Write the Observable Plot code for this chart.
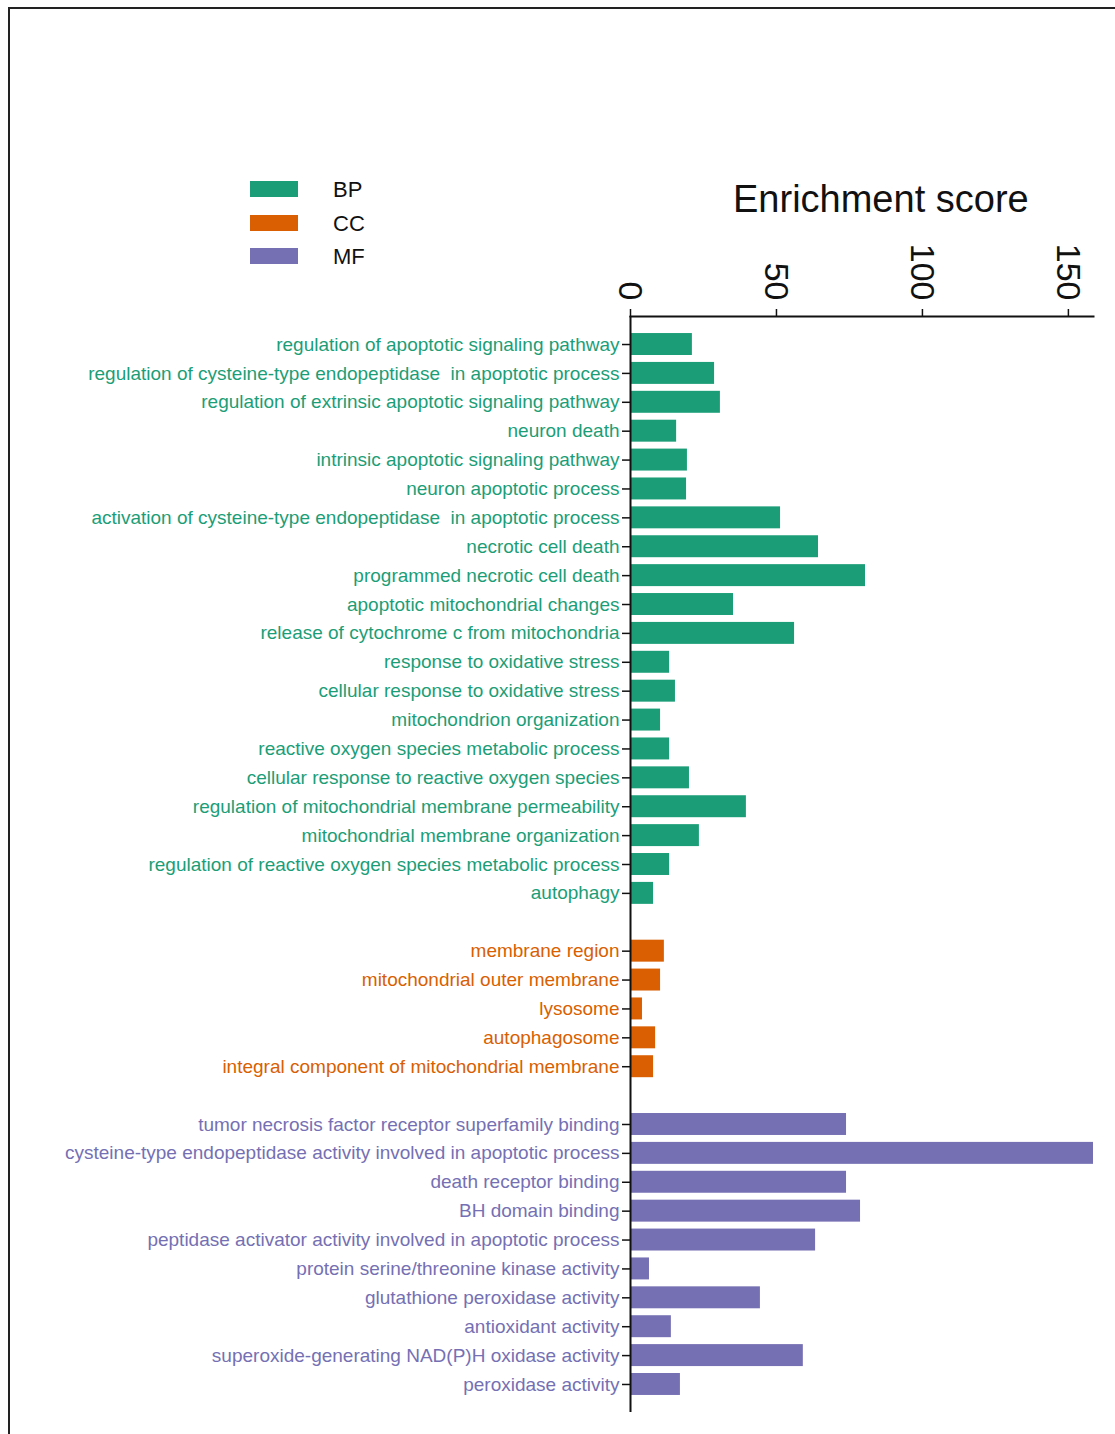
<!DOCTYPE html>
<html>
<head>
<meta charset="utf-8">
<script src="https://cdn.jsdelivr.net/npm/d3@7"></script>
<script src="https://cdn.jsdelivr.net/npm/@observablehq/plot@0.6"></script>
<style>
  html, body { margin: 0; padding: 0; background: #fff; overflow: hidden; }
  #wrap { position: relative; width: 1115px; height: 1434px; font-family: "Liberation Sans", Arial, sans-serif; }
  #border { position: absolute; left: 8px; top: 7px; width: 1200px; height: 1500px; border: 2px solid #222; box-sizing: border-box; pointer-events: none; }
  #chart { position: absolute; left: 0; top: 0; }
  #chart svg { white-space: pre; }
  .title { position: absolute; left: 733px; top: 180px; font-size: 38px; color: #111; line-height: 1; white-space: nowrap; }
  .leg { position: absolute; left: 250px; }
  .leg .sw { position: absolute; left: 0; width: 48px; height: 16px; }
  .leg .lb { position: absolute; left: 83px; font-size: 22px; line-height: 1; color: #111; }
</style>
</head>
<body>
<div id="wrap">
  <div id="chart"></div>
  <div class="title">Enrichment score</div>
  <div id="legend"></div>
  <div id="border"></div>
</div>
<script>
// ---- data ----
const categories = ["BP", "CC", "MF"];
const categoryColors = ["#1b9e77", "#d95f02", "#7570b3"];

const bpTerms = [
  "regulation of apoptotic signaling pathway",
  "regulation of cysteine-type endopeptidase  in apoptotic process",
  "regulation of extrinsic apoptotic signaling pathway",
  "neuron death",
  "intrinsic apoptotic signaling pathway",
  "neuron apoptotic process",
  "activation of cysteine-type endopeptidase  in apoptotic process",
  "necrotic cell death",
  "programmed necrotic cell death",
  "apoptotic mitochondrial changes",
  "release of cytochrome c from mitochondria",
  "response to oxidative stress",
  "cellular response to oxidative stress",
  "mitochondrion organization",
  "reactive oxygen species metabolic process",
  "cellular response to reactive oxygen species",
  "regulation of mitochondrial membrane permeability",
  "mitochondrial membrane organization",
  "regulation of reactive oxygen species metabolic process",
  "autophagy"
];
const bpScores = [21.2, 28.8, 30.8, 15.8, 19.5, 19.2, 51.4, 64.4, 80.5, 35.3, 56.2, 13.4, 15.4, 10.3, 13.4, 20.2, 39.7, 23.6, 13.4, 7.9];

const ccTerms = [
  "membrane region",
  "mitochondrial outer membrane",
  "lysosome",
  "autophagosome",
  "integral component of mitochondrial membrane"
];
const ccScores = [11.6, 10.3, 4.1, 8.6, 7.9];

const mfTerms = [
  "tumor necrosis factor receptor superfamily binding",
  "cysteine-type endopeptidase activity involved in apoptotic process",
  "death receptor binding",
  "BH domain binding",
  "peptidase activator activity involved in apoptotic process",
  "protein serine/threonine kinase activity",
  "glutathione peroxidase activity",
  "antioxidant activity",
  "superoxide-generating NAD(P)H oxidase activity",
  "peroxidase activity"
];
const mfScores = [74.0, 158.6, 74.0, 78.8, 63.4, 6.5, 44.5, 14.0, 59.2, 17.1];

const xTicks = [0, 50, 100, 150];
const xMax = 158.6;

// ---- build table ----
const rows = [
  ...bpTerms.map((t, i) => ({term: t, score: bpScores[i], cat: "BP"})),
  ...ccTerms.map((t, i) => ({term: t, score: ccScores[i], cat: "CC"})),
  ...mfTerms.map((t, i) => ({term: t, score: mfScores[i], cat: "MF"}))
];
const yDomain = [...bpTerms, "__gap1", ...ccTerms, "__gap2", ...mfTerms];
const realTerms = rows.map(d => d.term);

const plot = Plot.plot({
  width: 1115,
  height: 1434,
  marginLeft: 630,
  marginRight: 22,
  marginTop: 316,
  marginBottom: 22,
  style: {fontFamily: "'Liberation Sans', Arial, sans-serif", background: "transparent", overflow: "visible"},
  x: {domain: [0, xMax], axis: null, label: null},
  y: {domain: yDomain, paddingInner: 0.24, paddingOuter: 0.59, axis: null, label: null},
  color: {domain: categories, range: categoryColors},
  marks: [
    Plot.barX(rows, {x: "score", y: "term", fill: "cat"}),
    Plot.axisY({ticks: realTerms, tickSize: 8, tickFormat: () => "", label: null, stroke: "#111", strokeWidth: 1.5}),
    Plot.text(rows, {y: "term", text: "term", fill: "cat", frameAnchor: "left", textAnchor: "end", dx: -11, fontSize: 19}),
    Plot.axisX({anchor: "top", ticks: xTicks, tickSize: 8, tickFormat: () => "", label: null, stroke: "#111", strokeWidth: 1.5}),
    Plot.text(xTicks, {x: d => d, text: d => String(d), frameAnchor: "top", rotate: 90, textAnchor: "end", dx: 13, dy: -16, fontSize: 34, fill: "#111"}),
    Plot.ruleX([0], {stroke: "#111", strokeWidth: 2}),
    Plot.frame({anchor: "top", stroke: "#111", strokeWidth: 2})
  ]
});
document.getElementById("chart").appendChild(plot);

// ---- legend ----
const legend = document.getElementById("legend");
const legTops = [181, 215, 248];
categories.forEach((c, i) => {
  const row = document.createElement("div");
  row.className = "leg";
  row.style.top = legTops[i] + "px";
  const sw = document.createElement("div");
  sw.className = "sw";
  sw.style.background = categoryColors[i];
  const lb = document.createElement("div");
  lb.className = "lb";
  lb.style.top = "-2px";
  lb.textContent = c;
  row.appendChild(sw); row.appendChild(lb);
  legend.appendChild(row);
});
</script>
</body>
</html>
